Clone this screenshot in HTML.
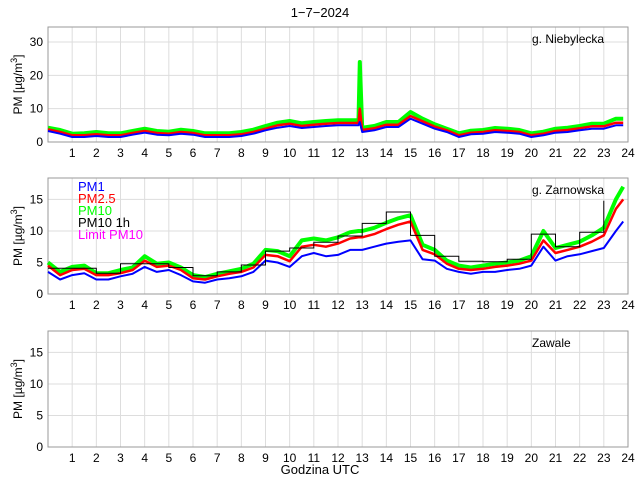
<!DOCTYPE html>
<html><head><meta charset="utf-8"><style>
body{margin:0;background:#fff;width:640px;height:480px;overflow:hidden}
text{font-family:"Liberation Sans",sans-serif;}
</style></head><body>
<svg id="c" width="640" height="480" xmlns="http://www.w3.org/2000/svg">
<text x="320" y="17" text-anchor="middle" font-size="13">1−7−2024</text>
<text x="320" y="474" text-anchor="middle" font-size="13">Godzina UTC</text>
</svg>
<script>
const times=[0,0.5,1,1.5,2,2.5,3,3.5,4,4.5,5,5.5,6,6.5,7,7.5,8,8.5,9,9.5,10,10.5,11,11.5,12,12.5,12.85,12.9,13,13.5,14,14.5,15,15.5,16,16.5,17,17.5,18,18.5,19,19.5,20,20.5,21,21.5,22,22.5,23,23.5,23.8];
const nieb_pm1=[3.3,2.5,1.5,1.5,1.8,1.5,1.5,2.2,2.8,2.2,2.0,2.5,2.2,1.5,1.5,1.5,1.8,2.5,3.5,4.3,4.8,4.2,4.5,4.8,5.0,5.0,5.0,6.0,3.0,3.5,4.5,4.5,7.0,5.5,4.0,3.0,1.5,2.3,2.5,3.0,2.8,2.5,1.5,2.0,2.8,3.0,3.5,4.0,4.0,5.0,5.0];
const nieb_pm25=[3.8,3.0,2.0,2.0,2.3,2.0,2.0,2.7,3.3,2.7,2.5,3.0,2.7,2.0,2.0,2.0,2.3,3.0,4.0,5.0,5.5,4.8,5.2,5.5,5.7,5.7,5.7,10.0,3.6,4.1,5.2,5.2,7.8,6.2,4.6,3.5,2.0,2.8,3.0,3.5,3.3,3.0,2.0,2.5,3.3,3.6,4.1,4.7,4.7,5.8,5.8];
const nieb_pm10=[4.3,3.6,2.5,2.6,3.0,2.6,2.6,3.3,4.0,3.3,3.1,3.7,3.3,2.6,2.6,2.6,3.0,3.7,4.8,5.8,6.3,5.6,6.0,6.3,6.5,6.5,6.5,24.0,4.3,4.8,6.0,6.0,9.0,7.0,5.3,4.0,2.6,3.4,3.6,4.2,4.0,3.6,2.6,3.1,4.0,4.3,4.8,5.5,5.5,7.0,7.0];
const zarn_pm1=[3.5,2.3,3.0,3.3,2.3,2.3,2.8,3.2,4.3,3.5,3.8,3.0,2.0,1.8,2.3,2.5,2.8,3.5,5.3,5.0,4.3,6.0,6.5,6.0,6.2,7.0,7.0,7.0,7.0,7.5,8.0,8.3,8.5,5.5,5.3,4.0,3.5,3.2,3.5,3.5,3.8,4.0,4.5,7.5,5.3,6.0,6.3,6.8,7.3,10.0,11.5];
const zarn_pm25=[4.5,3.0,3.8,4.0,3.0,3.0,3.3,3.8,5.3,4.3,4.5,3.8,2.5,2.3,2.8,3.2,3.5,4.2,6.2,6.0,5.2,7.5,7.8,7.5,8.0,8.8,9.0,9.0,9.0,9.5,10.3,11.0,11.5,7.0,6.3,4.8,4.0,3.8,4.0,4.3,4.5,4.8,5.3,8.5,6.5,7.0,7.5,8.3,9.3,13.5,15.0];
const zarn_pm10=[5.0,3.5,4.3,4.5,3.3,3.3,3.8,4.2,6.0,4.8,5.0,4.2,3.0,2.7,3.2,3.6,4.0,4.8,7.0,6.8,6.0,8.5,8.8,8.5,9.0,9.8,10.0,10.0,10.0,10.5,11.3,12.0,12.5,7.8,7.0,5.3,4.5,4.2,4.5,4.8,5.0,5.3,6.0,10.0,7.3,7.8,8.3,9.3,10.5,15.0,17.0];
const zarn_pm10_1h=[4.1,4.1,3.3,4.8,4.8,4.2,2.9,3.5,4.6,6.8,7.3,8.2,9.2,11.2,13.0,9.3,6.0,5.2,5.1,5.5,9.5,7.5,9.8,14.8];
const xTicks=[1,2,3,4,5,6,7,8,9,10,11,12,13,14,15,16,17,18,19,20,21,22,23,24];
const yTicks1=[0,10,20,30];
const yTicks2=[0,5,10,15];

const NS="http://www.w3.org/2000/svg";
const svg=document.getElementById('c');
const X0=48,X1=628;
function xs(h){return X0+(X1-X0)*h/24;}
function mk(tag,attrs,parent){const e=document.createElementNS(NS,tag);for(const k in attrs)e.setAttribute(k,attrs[k]);(parent||svg).appendChild(e);return e;}

const panels=[
 {top:27,bot:142,max:34.5,ticks:yTicks1,name:'g. Niebylecka',key:'niebylecka',series:[nieb_pm10,nieb_pm25,nieb_pm1],hourly:null},
 {top:178,bot:294,max:18.4,ticks:yTicks2,name:'g. Zarnowska',key:'zarnowska',series:[zarn_pm10,zarn_pm25,zarn_pm1],hourly:zarn_pm10_1h},
 {top:331,bot:447,max:18.4,ticks:yTicks2,name:'Zawale',key:'zawale',series:null,hourly:null}
];
const colors=['#00ff00','#ff0000','#0000ff'];
const widths=[4,2.5,2];
panels.forEach((p,pi)=>{
 const g=mk('g',{});
 
 
 const ys=v=>p.bot-(p.bot-p.top)*v/p.max;
 xTicks.forEach(t=>{
  if(t<24){const l=mk('line',{x1:xs(t),x2:xs(t),y1:p.top,y2:p.bot,stroke:'#dddddd','stroke-width':1},g);
  
  }
  const tx=mk('text',{x:xs(t),y:p.bot+15,'text-anchor':'middle','font-size':12},g);
  tx.textContent=t;
  
  
 });
 p.ticks.forEach(t=>{
  if(t>0){const l=mk('line',{x1:X0,x2:X1,y1:ys(t),y2:ys(t),stroke:'#dddddd','stroke-width':1},g);
  
  }
  const tx=mk('text',{x:X0-5,y:ys(t)+4,'text-anchor':'end','font-size':12},g);
  tx.textContent=t;
  
  
 });
 const fr=mk('rect',{x:X0,y:p.top,width:X1-X0,height:p.bot-p.top,fill:'none',stroke:'#999','stroke-width':1},g);
 
 
 const cy=(p.top+p.bot)/2;
 const yl=mk('text',{x:0,y:0,'text-anchor':'middle','font-size':12,transform:`translate(22,${cy}) rotate(-90)`},g);
 yl.innerHTML='PM [µg/m<tspan dy="-5" font-size="9">3</tspan><tspan dy="5">]</tspan>';
 
 
 const st=mk('text',{x:532,y:p.top+16,'font-size':12},g);
 st.textContent=p.name;
 
 
 if(p.series){
  const names=['pm10','pm25','pm1'];
  p.series.forEach((s,i)=>{
   const d=s.map((v,j)=>(j?'L':'M')+xs(times[j]).toFixed(1)+','+ys(v).toFixed(1)).join('');
   const pa=mk('path',{d:d,fill:'none',stroke:colors[i],'stroke-width':widths[i],'stroke-linejoin':'round'},g);
   
   
  });
 }
 if(p.hourly){
  let d='';
  p.hourly.forEach((v,h)=>{
   const x1=xs(h),x2=xs(Math.min(h+1,23)),y=ys(v);
   d+=(h?'L':'M')+x1.toFixed(1)+','+y.toFixed(1)+'L'+x2.toFixed(1)+','+y.toFixed(1);
  });
  const pa=mk('path',{d:d,fill:'none',stroke:'#000','stroke-width':1},g);
  
  
 }
 if(pi===1){
  const lg=mk('g',{},g);
  
  
  const items=[['PM1','#0000ff'],['PM2.5','#ff0000'],['PM10','#00ff00'],['PM10 1h','#000000'],['Limit PM10','#ff00ff']];
  items.forEach((it,i)=>{
   const t=mk('text',{x:78,y:191+i*12,'font-size':13,fill:it[1]},lg);
   t.textContent=it[0];
   
   
  });
 }
});
</script>
</body></html>
